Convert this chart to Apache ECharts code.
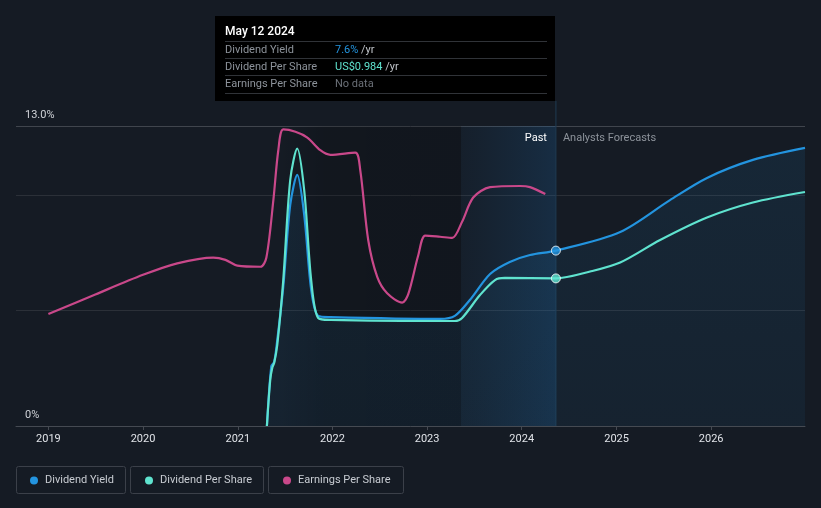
<!DOCTYPE html>
<html><head><meta charset="utf-8">
<script src="https://cdn.jsdelivr.net/npm/echarts@6/dist/echarts.min.js"></script>
<style>html,body{margin:0;padding:0;background:#151b24;}#c{width:821px;height:508px;}</style>
</head><body><div id="c"></div>
<script>
// ---- data ----
const yieldDates = ['2021-04-23','2021-05-10','2021-05-21','2021-06-02','2021-06-25','2021-07-22','2021-08-18','2021-09-14','2021-10-11','2021-11-07','2021-12-24','2023-02-20','2023-04-18','2023-06-15','2023-09-01','2023-11-16','2024-02-02','2024-05-12','2025-01-15','2025-07-26','2025-12-16','2026-06-11','2026-12-29'];
const yieldValues = [0, 2.6, 2.77, 3.73, 6.02, 9.58, 10.88, 9.14, 5.89, 4.77, 4.72, 4.64, 4.77, 5.46, 6.59, 7.11, 7.41, 7.6, 8.41, 9.79, 10.75, 11.53, 12.05];

const dpsDates = ['2021-04-23','2021-05-06','2021-05-14','2021-05-21','2021-06-02','2021-06-25','2021-07-22','2021-08-18','2021-09-14','2021-10-11','2021-11-07','2021-12-24','2023-04-18','2023-05-16','2023-07-24','2023-09-20','2023-10-28','2024-05-12','2024-09-21','2025-01-15','2025-06-18','2025-12-16','2026-06-11','2026-12-29'];
const dpsValues = [0, 0.31, 0.39, 0.42, 0.54, 0.97, 1.64, 1.85, 1.57, 0.97, 0.72, 0.707, 0.70, 0.72, 0.873, 0.973, 0.987, 0.984, 1.03, 1.09, 1.24, 1.39, 1.49, 1.56];

const epsDates = ['2019-01-01','2019-07-01','2020-01-01','2020-05-12','2020-09-28','2020-11-14','2020-12-30','2021-03-29','2021-04-21','2021-05-18','2021-06-06','2021-06-25','2021-08-11','2021-09-26','2021-11-15','2021-12-24','2022-03-30','2022-04-18','2022-05-19','2022-06-23','2022-07-31','2022-09-27','2022-10-20','2022-11-28','2022-12-25','2023-02-20','2023-04-08','2023-05-16','2023-06-28','2023-09-01','2023-12-26','2024-02-02','2024-04-01'];
const epsValues = [0.97, 1.14, 1.31, 1.41, 1.46, 1.44, 1.39, 1.38, 1.46, 1.96, 2.39, 2.57, 2.55, 2.50, 2.39, 2.35, 2.37, 2.22, 1.61, 1.29, 1.15, 1.07, 1.14, 1.48, 1.65, 1.64, 1.63, 1.77, 1.98, 2.07, 2.08, 2.07, 2.01];

const xMin = '2018-08-29', xMax = '2026-12-29';
const nowDate = '2024-05-12', pastBandStart = '2023-05-12', darkBandStart = '2021-06-10';
const yieldAxisMax = 13, dpsAxisMax = 2.0, epsAxisMax = 2.6;
const tipTitle = 'May 12 2024';
const tipRows = [
  {label:'Dividend Yield', value:'7.6%', unit:' /yr', color:'#2394df'},
  {label:'Dividend Per Share', value:'US$0.984', unit:' /yr', color:'#5fe3cf'},
  {label:'Earnings Per Share', value:'No data', unit:'', color:'#6b7078'}
];
const names = ['Dividend Yield','Dividend Per Share','Earnings Per Share'];
const colors = ['#2394df','#5fe3cf','#c9488a'];

const zip = (d, v) => d.map((x, i) => [x, v[i]]);
const FONT = 'Roboto, "Noto Sans", sans-serif';

const chart = echarts.init(document.getElementById('c'));
const option = {
  backgroundColor: '#151b24',
  animation: false,
  textStyle: {fontFamily: FONT},
  grid: {left: 16, right: 16, top: 126, bottom: 82},
  xAxis: {
    type: 'time', min: xMin, max: xMax,
    minInterval: 365 * 86400000, maxInterval: 366 * 86400000,
    axisLine: {lineStyle: {color: '#454a52', width: 1}},
    axisTick: {show: true, length: 4, lineStyle: {color: '#454a52'}},
    splitLine: {show: false},
    axisLabel: {color: '#e0e3e8', fontSize: 11, margin: 8, showMinLabel: false, showMaxLabel: false,
      formatter: v => String(new Date(v).getFullYear())}
  },
  yAxis: [
    {type: 'value', min: 0, max: yieldAxisMax, interval: 5,
      axisLine: {show: false}, axisTick: {show: false},
      splitLine: {lineStyle: {color: ['#262b33', '#2b3038', '#2b3038', '#40454d'], width: 1}},
      axisLabel: {inside: true, color: '#d0d3d8', fontSize: 11, margin: 9, verticalAlign: 'bottom',
        padding: [0, 0, 5, 0],
        formatter: v => v === 0 ? '0%' : (v === yieldAxisMax ? yieldAxisMax.toFixed(1) + '%' : '')}},
    {type: 'value', min: 0, max: dpsAxisMax, show: false},
    {type: 'value', min: 0, max: epsAxisMax, show: false}
  ],
  legend: names.map((n, i) => ({
    data: [n], left: [25, 140, 278][i], top: 470, icon: 'circle', itemWidth: 12, itemHeight: 8, itemGap: 0,
    selectedMode: false,
    textStyle: {color: '#c8ccd2', fontSize: 11, fontFamily: FONT}
  })),
  series: [
    {type: 'line', name: 'bands', data: [], z: 0, silent: true,
      markArea: {silent: true, z: 0, data: [
        [{xAxis: darkBandStart, itemStyle: {color: {type: 'linear', x: 0, y: 0, x2: 1, y2: 0,
          colorStops: [{offset: 0, color: 'rgba(0,0,0,0)'}, {offset: 0.25, color: 'rgba(0,0,0,0.16)'}, {offset: 1, color: 'rgba(0,0,0,0.18)'}]}}},
         {xAxis: pastBandStart}],
        [{xAxis: pastBandStart, itemStyle: {color: {type: 'linear', x: 0, y: 0, x2: 1, y2: 0,
          colorStops: [{offset: 0, color: 'rgba(30,100,160,0.06)'}, {offset: 1, color: 'rgba(30,110,180,0.22)'}]}}},
         {xAxis: nowDate}]
      ]}},
    {type: 'line', name: names[0], data: zip(yieldDates, yieldValues), yAxisIndex: 0, z: 3,
      smooth: 0.3, symbol: 'none', color: colors[0],
      lineStyle: {width: 2.2, color: colors[0]},
      areaStyle: {color: {type: 'linear', x: 0, y: 0, x2: 0, y2: 1,
        colorStops: [{offset: 0, color: 'rgba(35,148,223,0.14)'}, {offset: 1, color: 'rgba(35,148,223,0.09)'}]}}},
    {type: 'line', name: names[1], data: zip(dpsDates, dpsValues), yAxisIndex: 1, z: 4,
      smooth: 0.3, symbol: 'none', color: colors[1],
      lineStyle: {width: 2.2, color: colors[1]}},
    {type: 'line', name: names[2], data: zip(epsDates, epsValues), yAxisIndex: 2, z: 3,
      smooth: 0.3, symbol: 'none', color: colors[2],
      lineStyle: {width: 2.2, color: colors[2]}},
    {type: 'scatter', name: 'yieldNow', yAxisIndex: 0, z: 6, symbolSize: 9,
      data: [[nowDate, yieldValues[yieldDates.indexOf(nowDate)]]],
      itemStyle: {color: colors[0], borderColor: '#ffffff', borderWidth: 1}},
    {type: 'scatter', name: 'dpsNow', yAxisIndex: 1, z: 6, symbolSize: 9,
      data: [[nowDate, dpsValues[dpsDates.indexOf(nowDate)]]],
      itemStyle: {color: colors[1], borderColor: '#ffffff', borderWidth: 1}}
  ]
};
chart.setOption(option);

// overlay graphics computed from the axis scales
const nowX = chart.convertToPixel({xAxisIndex: 0}, +new Date(nowDate + 'T00:00:00'));
const topY = chart.convertToPixel({yAxisIndex: 0}, yieldAxisMax);
const botY = chart.convertToPixel({yAxisIndex: 0}, 0);
const boxW = 340, boxH = 85, boxTop = 16;
const boxLeft = Math.round(nowX) - boxW - 1;
const gEls = [];
gEls.push({type: 'line', z: 2, shape: {x1: nowX, y1: boxTop + boxH, x2: nowX, y2: botY},
  style: {stroke: '#1f3a52', lineWidth: 1}});
const tipChildren = [
  {type: 'rect', shape: {x: 0, y: 0, width: boxW, height: boxH}, style: {fill: '#000000'}},
  {type: 'text', x: 10, y: 16, style: {text: tipTitle, fill: '#ffffff', font: '500 12px ' + FONT, verticalAlign: 'middle'}}
];
[25, 42, 59, 77].forEach(yy => tipChildren.push({type: 'line', shape: {x1: 10, y1: yy + 0.5, x2: 332, y2: yy + 0.5}, style: {stroke: '#303338', lineWidth: 1}}));
tipRows.forEach((r, i) => {
  const cy = [34, 51, 68.5][i];
  tipChildren.push({type: 'text', x: 10, y: cy, style: {text: r.label, fill: '#8d939b', font: '11px ' + FONT, verticalAlign: 'middle'}});
  tipChildren.push({type: 'text', x: 120, y: cy, style: {
    text: '{v|' + r.value + '}' + (r.unit ? '{u|' + r.unit + '}' : ''), verticalAlign: 'middle',
    rich: {v: {fill: r.color, font: '11px ' + FONT}, u: {fill: '#c0c4ca', font: '11px ' + FONT}}}});
});
gEls.push({type: 'group', x: boxLeft, y: boxTop, z: 10, children: tipChildren});
gEls.push({type: 'text', x: nowX - 9, y: topY + 12, z: 10, style: {text: 'Past', fill: '#ffffff', font: '11px ' + FONT, align: 'right', verticalAlign: 'middle'}});
gEls.push({type: 'text', x: nowX + 7, y: topY + 12, z: 10, style: {text: 'Analysts Forecasts', fill: '#8d939b', font: '11px ' + FONT, align: 'left', verticalAlign: 'middle'}});
// legend boxes
[[16, 109], [130, 133], [268, 135]].forEach(b => gEls.push({type: 'rect', z: 1,
  shape: {x: b[0] + 0.5, y: 466.5, width: b[1], height: 27, r: 2}, style: {fill: 'none', stroke: '#3b4049', lineWidth: 1}}));
chart.setOption({graphic: gEls});
</script>
</body></html>
